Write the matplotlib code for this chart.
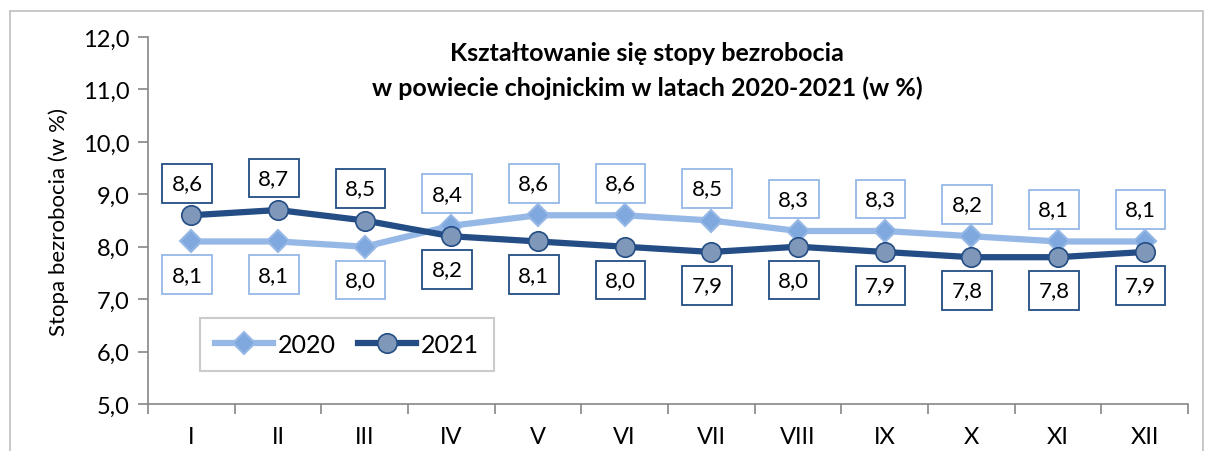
import matplotlib
matplotlib.use("Agg")
import matplotlib.pyplot as plt
from matplotlib.patches import Rectangle
from matplotlib.ticker import MultipleLocator, FixedLocator

plt.rcParams['font.family'] = ['Lato', 'DejaVu Sans']

months = ['I', 'II', 'III', 'IV', 'V', 'VI', 'VII', 'VIII', 'IX', 'X', 'XI', 'XII']
rate_2020 = [8.1, 8.1, 8.0, 8.4, 8.6, 8.6, 8.5, 8.3, 8.3, 8.2, 8.1, 8.1]
rate_2021 = [8.6, 8.7, 8.5, 8.2, 8.1, 8.0, 7.9, 8.0, 7.9, 7.8, 7.8, 7.9]

c20_line = '#95B8E6'
c20_face = '#7FA8DE'
c21_line = '#234D84'
c21_face = '#7F97B8'

fig = plt.figure(figsize=(12.06, 4.52), dpi=100)
fig.patches.append(Rectangle((10 / 1206, -0.05), 1193 / 1206, 1.05 - 12 / 452,
                             transform=fig.transFigure, fill=False,
                             edgecolor='#BFBFBF', linewidth=1.2))
ax = fig.add_axes([148 / 1206, 1 - 405 / 452, 1040 / 1206, 367 / 452])

x = list(range(len(months)))
ax.plot(x, rate_2020, color=c20_line, lw=4.5, marker='D', ms=11,
        mfc=c20_face, mec=c20_line, mew=1.5, label='2020', zorder=3)
ax.plot(x, rate_2021, color=c21_line, lw=4.5, marker='o', ms=14,
        mfc=c21_face, mec=c21_line, mew=1.2, label='2021', zorder=4)

for i in x:
    up20 = i >= 3
    ax.annotate(f'{rate_2020[i]:.1f}'.replace('.', ','), (i, rate_2020[i]),
                xytext=(-3, 23 if up20 else -24), textcoords='offset points',
                ha='center', va='center', fontsize=16,
                bbox=dict(boxstyle='square,pad=0.42', fc='white', ec=c20_line, lw=1.3),
                zorder=5)
    ax.annotate(f'{rate_2021[i]:.1f}'.replace('.', ','), (i, rate_2021[i]),
                xytext=(-3, -24 if up20 else 23), textcoords='offset points',
                ha='center', va='center', fontsize=16,
                bbox=dict(boxstyle='square,pad=0.42', fc='white', ec=c21_line, lw=1.3),
                zorder=5)

ax.set_xlim(-0.5, len(months) - 0.5)
ax.set_ylim(5.0, 12.0)
ax.yaxis.set_major_locator(MultipleLocator(1.0))
ax.set_yticklabels([f'{v:.1f}'.replace('.', ',') for v in ax.get_yticks()])
ax.set_xticks(x)
ax.set_xticklabels(months)
ax.xaxis.set_minor_locator(FixedLocator([i - 0.5 for i in range(len(months) + 1)]))
ax.tick_params(axis='x', which='major', length=0, pad=16, labelsize=17)
ax.tick_params(axis='x', which='minor', length=7, color='#868686', width=1.2)
ax.tick_params(axis='y', length=7, color='#868686', width=1.2, labelsize=17, pad=6)

for s in ['top', 'right']:
    ax.spines[s].set_visible(False)
for s in ['left', 'bottom']:
    ax.spines[s].set_color('#868686')
    ax.spines[s].set_linewidth(1.2)

ax.set_ylabel('Stopa bezrobocia (w %)', fontsize=16, labelpad=10)
ax.set_title('Kształtowanie się stopy bezrobocia\nw powiecie chojnickim w latach 2020-2021 (w %)',
             fontsize=18, fontweight='bold', y=0.82, x=0.48, linespacing=1.55)

leg = ax.legend(loc='lower left', bbox_to_anchor=(0.05, 0.09), borderaxespad=0,
                ncol=2, fontsize=18, frameon=True, fancybox=False, handlelength=2.3,
                handletextpad=0.2, borderpad=0.6, columnspacing=0.9)
leg.get_frame().set_edgecolor('#BFBFBF')
leg.get_frame().set_linewidth(1.5)

fig.savefig('out.png', dpi=100)
